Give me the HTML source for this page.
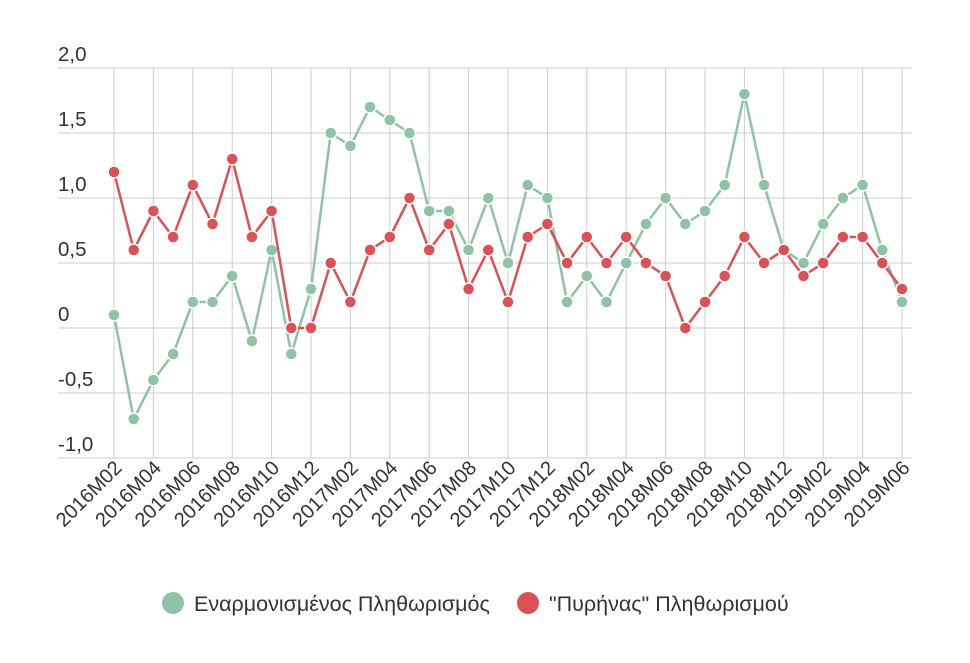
<!DOCTYPE html>
<html><head><meta charset="utf-8"><style>
body{margin:0;background:#fff;font-family:"Liberation Sans",sans-serif}
svg text{font-family:"Liberation Sans",sans-serif;fill:#333}
</style></head><body>
<svg width="970" height="658">
<g id="grid"></g><g id="ylabels"></g><g id="xlabels"></g><g id="series"></g>
<g>
<g><circle cx="173" cy="603" r="11" fill="#8fc3a6"/><text x="194" y="611" font-size="21.5">Εναρμονισμένος Πληθωρισμός</text></g>
<g><circle cx="528" cy="603" r="11" fill="#db5155"/><text x="549" y="611" font-size="21.5">"Πυρήνας" Πληθωρισμού</text></g>
</g>
</svg>
<script>
const months=[];
for(let y=2016;y<=2019;y++)for(let m=1;m<=12;m++){if((y==2016&&m<2)||(y==2019&&m>6))continue;months.push(y+'M'+String(m).padStart(2,'0'));}
const hicp=[0.1,-0.7,-0.4,-0.2,0.2,0.2,0.4,-0.1,0.6,-0.2,0.3,1.5,1.4,1.7,1.6,1.5,0.9,0.9,0.6,1.0,0.5,1.1,1.0,0.2,0.4,0.2,0.5,0.8,1.0,0.8,0.9,1.1,1.8,1.1,0.6,0.5,0.8,1.0,1.1,0.6,0.2];
const core=[1.2,0.6,0.9,0.7,1.1,0.8,1.3,0.7,0.9,0.0,0.0,0.5,0.2,0.6,0.7,1.0,0.6,0.8,0.3,0.6,0.2,0.7,0.8,0.5,0.7,0.5,0.7,0.5,0.4,0.0,0.2,0.4,0.7,0.5,0.6,0.4,0.5,0.7,0.7,0.5,0.3];
const yTicks=[2.0,1.5,1.0,0.5,0,-0.5,-1.0];
const yTickLabels=['2,0','1,5','1,0','0,5','0','-0,5','-1,0'];
const NS='http://www.w3.org/2000/svg';
const X0=114,X1=902,Y0=328,PU=130;
const xs=i=>X0+(X1-X0)*i/(months.length-1);
const ys=v=>Y0-v*PU;
function mk(t,a,p){const e=document.createElementNS(NS,t);for(const k in a)e.setAttribute(k,a[k]);p.appendChild(e);return e;}
const grid=document.getElementById('grid'),yl=document.getElementById('ylabels'),xl=document.getElementById('xlabels'),ser=document.getElementById('series');
yTicks.forEach((v,i)=>{
const l=mk('line',{x1:58,x2:912,y1:ys(v),y2:ys(v),stroke:'#ccc','stroke-width':1},grid);


const t=mk('text',{x:58,y:ys(v)-7,'font-size':20.5},yl);t.textContent=yTickLabels[i];


});
months.forEach((m,i)=>{if(i%2)return;
const l=mk('line',{x1:xs(i),x2:xs(i),y1:68,y2:458,stroke:'#ccc','stroke-width':1},grid);


const t=mk('text',{x:xs(i)+9,y:469,'font-size':20,'text-anchor':'end',transform:`rotate(-45 ${xs(i)+9} 469)`},xl);t.textContent=m;


});
function draw(data,col,name){
const p=mk('polyline',{points:data.map((v,i)=>xs(i)+','+ys(v)).join(' '),fill:'none',stroke:col,'stroke-width':2.5},ser);


data.forEach((v,i)=>{const c=mk('circle',{cx:xs(i),cy:ys(v),r:6,fill:col,stroke:'#fff','stroke-width':1.5},ser);

});
}
draw(hicp,'#8fc3a6','hicp');
draw(core,'#db5155','core');
</script>
</body></html>
